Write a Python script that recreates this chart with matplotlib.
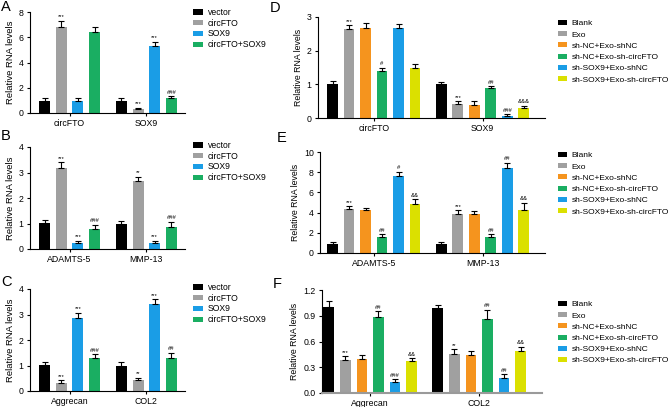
import matplotlib
matplotlib.use('Agg')
import matplotlib.pyplot as plt
from matplotlib.patches import Patch

plt.rcParams['font.family'] = ['Liberation Sans', 'DejaVu Sans']

W, H = 669, 407

# ---- left column (A, B, C) ----
left_groups = ['vector', 'circFTO', 'SOX9', 'circFTO+SOX9']
left_colors = ['#000000', '#a0a0a0', '#1a9de6', '#1aae62']

a_genes = ['circFTO', 'SOX9']
a_mean = [[0.98, 6.85, 0.98, 6.4], [0.92, 0.3, 5.3, 1.19]]
a_err = [[0.18, 0.45, 0.17, 0.45], [0.23, 0.12, 0.36, 0.16]]
a_sig = [['', '***', '', ''], ['', '***', '***', '###']]

b_genes = ['ADAMTS-5', 'MMP-13']
b_mean = [[1.02, 3.17, 0.23, 0.8], [0.98, 2.68, 0.23, 0.85]]
b_err = [[0.1, 0.23, 0.1, 0.15], [0.11, 0.15, 0.09, 0.22]]
b_sig = [['', '***', '***', '###'], ['', '**', '***', '###']]

c_genes = ['Aggrecan', 'COL2']
c_mean = [[1.02, 0.32, 2.87, 1.31], [0.99, 0.43, 3.4, 1.28]]
c_err = [[0.1, 0.1, 0.2, 0.13], [0.13, 0.09, 0.2, 0.22]]
c_sig = [['', '***', '***', '###'], ['', '**', '***', '##']]

# ---- right column (D, E, F) ----
right_groups = ['Blank', 'Exo', 'sh-NC+Exo-shNC', 'sh-NC+Exo-sh-circFTO',
                'sh-SOX9+Exo-shNC', 'sh-SOX9+Exo-sh-circFTO']
right_colors = ['#000000', '#a0a0a0', '#f5941e', '#1aae62', '#1a9de6', '#dbe000']

d_genes = ['circFTO', 'SOX9']
d_mean = [[1.0, 2.65, 2.67, 1.39, 2.67, 1.5], [1.0, 0.43, 0.4, 0.9, 0.07, 0.31]]
d_err = [[0.1, 0.11, 0.16, 0.1, 0.11, 0.1], [0.06, 0.07, 0.1, 0.05, 0.04, 0.05]]
d_sig = [['', '***', '', '#', '', ''], ['', '***', '', '##', '###', '&&&']]

e_genes = ['ADAMTS-5', 'MMP-13']
e_mean = [[0.9, 4.4, 4.3, 1.55, 7.65, 4.85], [0.86, 3.85, 3.9, 1.55, 8.45, 4.3]]
e_err = [[0.2, 0.25, 0.12, 0.3, 0.4, 0.45], [0.2, 0.4, 0.3, 0.3, 0.5, 0.68]]
e_sig = [['', '***', '', '##', '#', '&&'], ['', '***', '', '##', '##', '&&']]

f_genes = ['Aggrecan', 'COL2']
f_mean = [[1.0, 0.385, 0.4, 0.88, 0.13, 0.37], [0.99, 0.46, 0.44, 0.86, 0.18, 0.49]]
f_err = [[0.07, 0.045, 0.04, 0.07, 0.03, 0.035], [0.04, 0.05, 0.05, 0.11, 0.04, 0.05]]
f_sig = [['', '***', '', '##', '###', '&&'], ['', '**', '', '##', '##', '&&']]


def px_rect(x0, y0, x1, y1):
    return [x0 / W, 1 - y1 / H, (x1 - x0) / W, (y1 - y0) / H]


fig = plt.figure(figsize=(W / 100, H / 100), dpi=100)


def draw_panel(rect, genes, means, errs, sigs, groups, colors, yticks, ylabels,
               xlim, gap, leg_xy, letter, letter_xy, gray_base=False, ylab_size=6.3,
               leg_size=6.2, leg_space=0.2, leg_hl=1.2, leg_pad=0.5):
    ax = fig.add_axes(px_rect(*rect))
    n = len(groups)
    for g in range(len(genes)):
        xs = [g * gap + i for i in range(n)]
        ax.bar(xs, means[g], width=0.66, color=colors, edgecolor='none', zorder=2)
        ax.errorbar(xs, means[g], yerr=[[0] * n, errs[g]], fmt='none', ecolor='black',
                    elinewidth=0.8, capsize=2.2, capthick=0.8, zorder=3)
        for i in range(n):
            if sigs[g][i]:
                ax.annotate(sigs[g][i], (xs[i], means[g][i] + errs[g][i]),
                            xytext=(0, 1), textcoords='offset points',
                            ha='center', va='bottom', fontsize=4.2)
    ax.set_xlim(*xlim)
    ax.set_ylim(yticks[0], yticks[-1])
    ax.set_yticks(yticks)
    ax.set_yticklabels(ylabels, fontsize=6.3)
    ax.set_xticks([g * gap + (n - 1) / 2 for g in range(len(genes))])
    ax.set_xticklabels(genes, fontsize=6.3)
    ax.tick_params(axis='both', length=2.5, width=0.8, pad=2)
    ax.set_ylabel('Relative RNA levels', fontsize=ylab_size, labelpad=3)
    for s in ['top', 'right']:
        ax.spines[s].set_visible(False)
    for s in ['left', 'bottom']:
        ax.spines[s].set_linewidth(0.8)
    if gray_base:
        ax.spines['bottom'].set_color('#9a9a9a')
        ax.spines['bottom'].set_linewidth(1.5)
    handles = [Patch(facecolor=c, edgecolor='none') for c in colors]
    fig.legend(handles, groups, loc='upper left',
               bbox_to_anchor=(leg_xy[0] / W, 1 - leg_xy[1] / H),
               frameon=False, fontsize=leg_size, handlelength=leg_hl, handleheight=0.55,
               handletextpad=leg_pad, labelspacing=leg_space, borderpad=0, borderaxespad=0)
    fig.text(letter_xy[0] / W, 1 - letter_xy[1] / H, letter, fontsize=10.5,
             ha='left', va='center')
    return ax


draw_panel((30, 12, 185, 113), a_genes, a_mean, a_err, a_sig, left_groups, left_colors,
           [0, 2, 4, 6, 8], ['0', '2', '4', '6', '8'], (-0.87, 8.41), 4.6,
           (193, 8), 'A', (1, 7), ylab_size=6.8)
draw_panel((30, 147, 185, 249), b_genes, b_mean, b_err, b_sig, left_groups, left_colors,
           [0, 1, 2, 3, 4], ['0', '1', '2', '3', '4'], (-0.87, 8.41), 4.6,
           (193, 141), 'B', (1, 136), ylab_size=6.8)
draw_panel((30, 289, 185, 391), c_genes, c_mean, c_err, c_sig, left_groups, left_colors,
           [0, 1, 2, 3, 4], ['0', '1', '2', '3', '4'], (-0.87, 8.41), 4.6,
           (193, 283), 'C', (1, 282), ylab_size=6.8)

rk = dict(leg_size=6.0, leg_space=0.45, leg_hl=1.1, leg_pad=0.55)
draw_panel((318, 17, 545, 118), d_genes, d_mean, d_err, d_sig, right_groups, right_colors,
           [0, 1, 2, 3], ['0', '1', '2', '3'], (-0.88, 12.88), 6.6,
           (558, 20), 'D', (270, 8), **rk)
draw_panel((320, 152, 545, 253), e_genes, e_mean, e_err, e_sig, right_groups, right_colors,
           [0, 2, 4, 6, 8, 10], ['0', '2', '4', '6', '8', '10'], (-0.76, 12.88), 6.6,
           (558, 152), 'E', (277, 138), **rk)
draw_panel((322, 290, 542, 393), f_genes, f_mean, f_err, f_sig, right_groups, right_colors,
           [0, 0.3, 0.6, 0.9, 1.2], ['0.0', '0.3', '0.6', '0.9', '1.2'], (-0.42, 12.9), 6.6,
           (558, 301), 'F', (273, 284), gray_base=True, **rk)

fig.savefig('out.png', dpi=100)
